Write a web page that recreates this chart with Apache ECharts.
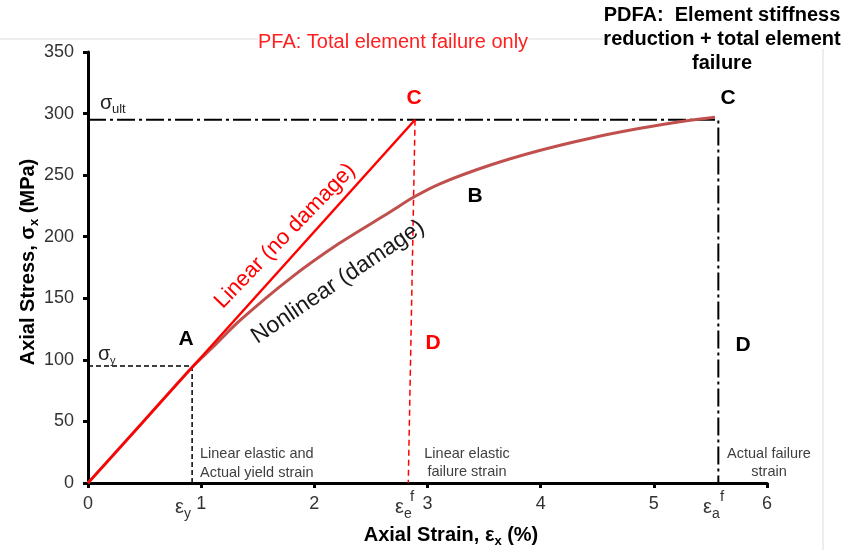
<!DOCTYPE html>
<html>
<head>
<meta charset="utf-8">
<script src="https://cdn.jsdelivr.net/npm/echarts@6/dist/echarts.min.js"></script>
<style>html,body{margin:0;padding:0;background:#fff}#c{width:847px;height:550px}</style>
</head>
<body>
<div id="c"></div>
<script>
// ---- data ----
const xTicks = [0, 1, 2, 3, 4, 5, 6];
const yTicks = [0, 50, 100, 150, 200, 250, 300, 350];
// nonlinear (damage) curve
const strainNL = [0, 0.5, 0.92, 1.1, 1.343, 1.785, 2.227, 2.669, 2.875, 3.11, 3.55, 3.99, 4.44, 4.88, 5.32, 5.54];
const stressNL = [0, 51, 94, 110, 132, 166, 195, 220, 232, 243, 258, 270, 280, 288, 294.5, 297];
// linear (no damage)
const strainLin = [0, 2.89];
const stressLin = [0, 295];
// reference values
const sigmaUlt = 295;
const sigmaY = 95;
const yieldStrain = 0.92;
const elasticFailStrainTop = 2.89;
const elasticFailStrainBottom = 2.83;
const actualFailStrain = 5.57;

const FONT = 'Liberation Sans, Arial, sans-serif';
const chart = echarts.init(document.getElementById('c'));

const zip = (a, b) => a.map((v, i) => [v, b[i]]);

const option = {
  animation: false,
  backgroundColor: '#fff',
  grid: { left: 88, right: 80, top: 52, bottom: 67, containLabel: false },
  xAxis: {
    type: 'value', min: xTicks[0], max: xTicks[xTicks.length - 1], interval: 1,
    splitLine: { show: false },
    axisLine: { lineStyle: { color: '#000', width: 3 } },
    axisTick: { show: true, length: 5, lineStyle: { color: '#000', width: 3 } },
    axisLabel: { color: '#333', fontSize: 18, fontFamily: FONT, margin: 12 }
  },
  yAxis: {
    type: 'value', min: yTicks[0], max: yTicks[yTicks.length - 1], interval: 50,
    splitLine: { show: false },
    axisLine: { show: true, lineStyle: { color: '#000', width: 3 } },
    axisTick: { show: true, length: 5, lineStyle: { color: '#000', width: 3 } },
    axisLabel: { color: '#333', fontSize: 18, fontFamily: FONT, margin: 14 }
  },
  series: [
    { name: 'ult', type: 'line', symbol: 'none', silent: true,
      data: [[0, sigmaUlt], [actualFailStrain, sigmaUlt], [actualFailStrain, 0]],
      lineStyle: { color: '#000', width: 2, type: [18, 4, 3, 4] } },
    { name: 'yield', type: 'line', symbol: 'none', silent: true,
      data: [[0, sigmaY], [yieldStrain, sigmaY], [yieldStrain, 0]],
      lineStyle: { color: '#000', width: 1.5, type: [5, 3] } },
    { name: 'elasticFail', type: 'line', symbol: 'none', silent: true,
      data: [[elasticFailStrainTop, sigmaUlt], [elasticFailStrainBottom, 0]],
      lineStyle: { color: '#ff0000', width: 1.5, type: [6, 4] } },
    { name: 'Nonlinear', type: 'line', symbol: 'none', smooth: 0.3, silent: true,
      data: zip(strainNL, stressNL),
      lineStyle: { color: '#c0504d', width: 3 } },
    { name: 'Linear', type: 'line', symbol: 'none', silent: true,
      data: zip(strainLin, stressLin),
      lineStyle: { color: '#ff0000', width: 2.5 } }
  ]
};
chart.setOption(option);

function txt(x, y, text, o) {
  o = o || {};
  return {
    type: 'text', x: x, y: y, rotation: o.rot || 0, z: 100,
    style: {
      text: text, fill: o.color || '#000', fontSize: o.size || 18,
      fontWeight: o.bold ? 'bold' : 'normal', fontFamily: FONT,
      align: o.align || 'center', verticalAlign: o.va || 'middle',
      backgroundColor: o.bg, rich: o.rich
    }
  };
}
const gray = '#404040';
const graphics = [
  { type: 'line', z: 1, shape: { x1: 0, y1: 39, x2: 823, y2: 39 }, style: { stroke: '#dcdcdc', lineWidth: 1 } },
  { type: 'line', z: 1, shape: { x1: 823, y1: 39, x2: 823, y2: 550 }, style: { stroke: '#dcdcdc', lineWidth: 1 } },
  txt(393, 42, 'PFA: Total element failure only', { color: '#ff2020', size: 20, bg: '#fff' }),
  txt(722, 15, 'PDFA:  Element stiffness', { bold: true, size: 20, bg: '#fff' }),
  txt(722, 39, 'reduction + total element', { bold: true, size: 20, bg: '#fff' }),
  txt(722, 63, 'failure', { bold: true, size: 20, bg: '#fff' }),
  txt(186, 339, 'A', { bold: true, size: 21 }),
  txt(475, 196, 'B', { bold: true, size: 21 }),
  txt(414, 98, 'C', { bold: true, size: 21, color: '#ff0000' }),
  txt(728, 98, 'C', { bold: true, size: 21 }),
  txt(433, 343, 'D', { bold: true, size: 21, color: '#ff0000' }),
  txt(743, 345, 'D', { bold: true, size: 21 }),
  txt(285, 236, 'Linear (no damage)', { size: 22, color: '#ff0000', rot: 46 * Math.PI / 180 }),
  txt(338, 282, 'Nonlinear (damage)', { size: 23, color: '#1a1a1a', rot: 34 * Math.PI / 180 }),
  // sigma labels
  txt(100, 103, 'σ', { size: 20, align: 'left', color: '#222' }),
  txt(112, 109, 'ult', { size: 13, align: 'left', color: '#222' }),
  txt(98, 354, 'σ', { size: 20, align: 'left', color: '#222' }),
  txt(110, 361, 'y', { size: 11, align: 'left', color: '#222' }),
  // strain labels
  txt(175, 507, 'ε', { size: 20, align: 'left', color: '#333' }),
  txt(184, 514, 'y', { size: 14, align: 'left', color: '#333' }),
  txt(395, 507, 'ε', { size: 20, align: 'left', color: '#333' }),
  txt(404, 514, 'e', { size: 14, align: 'left', color: '#333' }),
  txt(410, 497, 'f', { size: 15, align: 'left', color: '#333' }),
  txt(703, 507, 'ε', { size: 20, align: 'left', color: '#333' }),
  txt(712, 514, 'a', { size: 14, align: 'left', color: '#333' }),
  txt(720, 497, 'f', { size: 15, align: 'left', color: '#333' }),
  // bottom notes
  txt(200, 454, 'Linear elastic and', { size: 14.5, align: 'left', color: gray }),
  txt(200, 473, 'Actual yield strain', { size: 14.5, align: 'left', color: gray }),
  txt(467, 454, 'Linear elastic', { size: 14.5, color: gray }),
  txt(467, 472, 'failure strain', { size: 14.5, color: gray }),
  txt(769, 454, 'Actual failure', { size: 14.5, color: gray }),
  txt(769, 472, 'strain', { size: 14.5, color: gray }),
  // axis titles
  txt(451, 535, '{m|Axial Strain, ε}{s|x}{m| (%)}', { bold: true, size: 20, rich: {
    m: { fontSize: 20, fontWeight: 'bold', fontFamily: FONT, lineHeight: 26, verticalAlign: 'middle' },
    s: { fontSize: 13, fontWeight: 'bold', fontFamily: FONT, lineHeight: 14, verticalAlign: 'bottom' } } }),
  txt(28, 262, '{m|Axial Stress, σ}{s|x}{m| (MPa)}', { bold: true, size: 20, rot: Math.PI / 2, rich: {
    m: { fontSize: 20, fontWeight: 'bold', fontFamily: FONT, lineHeight: 26, verticalAlign: 'middle' },
    s: { fontSize: 13, fontWeight: 'bold', fontFamily: FONT, lineHeight: 14, verticalAlign: 'bottom' } } })
];
chart.setOption({ graphic: graphics });
</script>
</body>
</html>
